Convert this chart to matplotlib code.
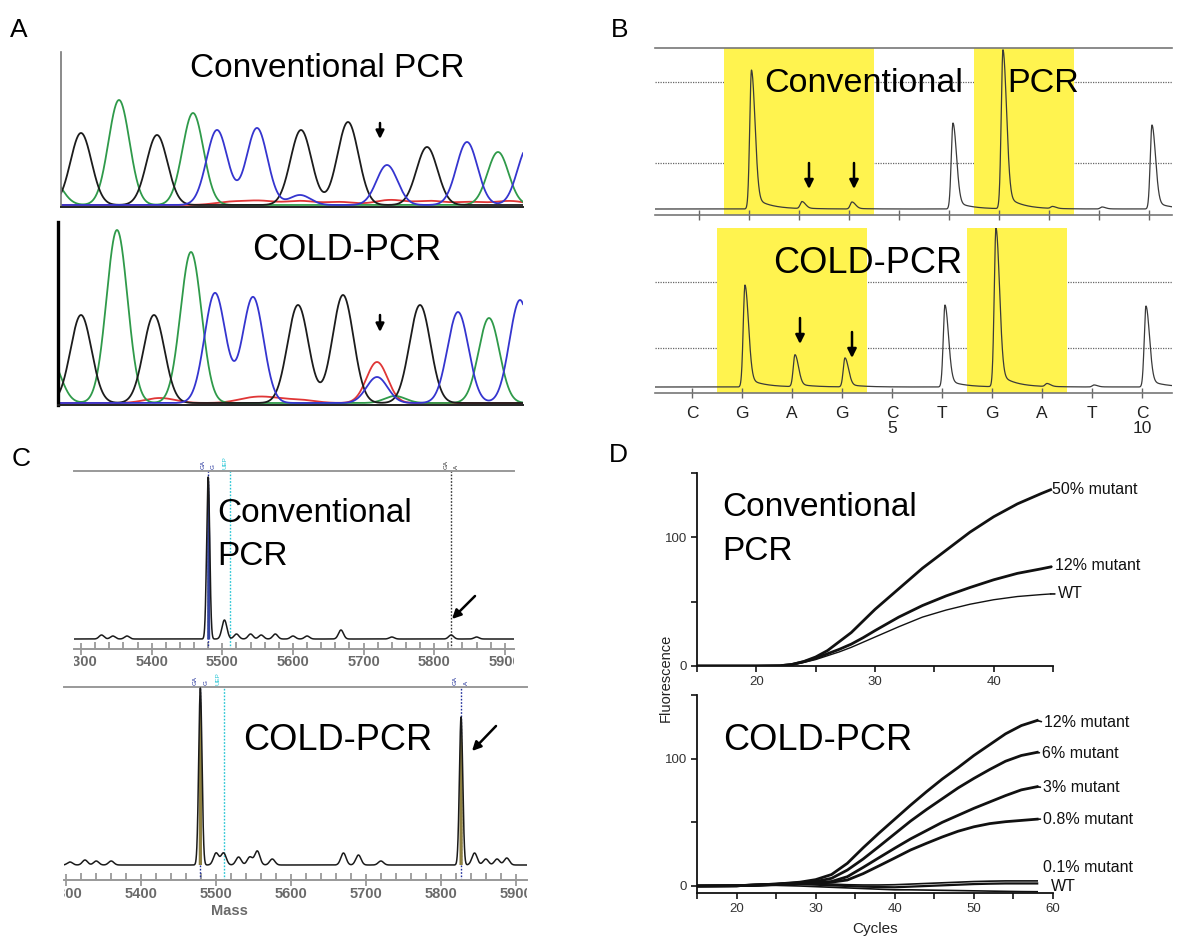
import numpy as np
import matplotlib
matplotlib.use("Agg")
import matplotlib.pyplot as plt
from matplotlib.patches import FancyArrowPatch
from matplotlib.ticker import MultipleLocator

plt.rcParams['font.family'] = ['Liberation Sans', 'DejaVu Sans']

# ---------------- data ----------------
# Panel A: Sanger chromatogram peaks (scan position, height, base colour)
A_conv_pos = [52, 81, 119, 157, 193, 217, 257, 300, 301, 348, 387, 427, 467, 498, 528]
A_conv_hgt = [25, 72, 105, 70, 92, 75, 77, 10, 75, 83, 40, 58, 63, 53, 58]
A_conv_col = ['g', 'k', 'g', 'k', 'g', 'b', 'b', 'b', 'k', 'k', 'b', 'k', 'b', 'g', 'b']
A_conv_noise_pos = [230, 260, 300, 340, 390, 430, 470, 510]
A_conv_noise_hgt = [3, 4, 4, 3, 5, 4, 3, 4]

A_cold_pos = [50, 81, 117, 154, 191, 215, 253, 298, 343, 377, 377, 395, 420, 458, 489, 520]
A_cold_hgt = [45, 88, 173, 88, 151, 110, 106, 98, 108, 41, 26, 7, 98, 91, 85, 103]
A_cold_col = ['g', 'k', 'g', 'k', 'g', 'b', 'b', 'k', 'k', 'r', 'b', 'g', 'k', 'b', 'g', 'b']
A_cold_noise_pos = [160, 250, 270, 300]
A_cold_noise_hgt = [5, 4, 4, 3]

# Panel B: pyrosequencing
B_bases = ['C', 'G', 'A', 'G', 'C', 'T', 'G', 'A', 'T', 'C']
B_numbers = {5: '5', 10: '10'}
B_conv_pos = [2.05, 3.06, 4.06, 6.08, 7.08, 8.07, 9.06, 10.06]
B_conv_hgt = [139, 7, 7, 86, 159, 2, 2, 84]
B_cold_pos = [2.06, 3.06, 4.06, 6.06, 7.08, 8.10, 9.04, 10.08]
B_cold_hgt = [102, 32, 29, 82, 159, 3, 2, 81]
B_highlight = [(1.5, 4.5), (6.5, 8.5)]
B_conv_grid = [46, 127]
B_cold_grid = [39, 105]

# Panel C: mass spectra (mass, intensity)
C_conv_mass = [5329, 5345, 5365, 5480, 5503, 5520, 5540, 5555, 5575, 5600, 5620, 5668, 5740, 5824, 5860]
C_conv_int = [4, 3, 3, 162, 19, 5, 5, 4, 5, 3, 3, 9, 2, 4, 2]
C_cold_mass = [5305, 5325, 5340, 5360, 5479, 5500, 5510, 5530, 5545, 5555, 5575, 5670, 5690, 5720,
               5827, 5845, 5860, 5875, 5888]
C_cold_int = [3, 5, 4, 4, 177, 12, 12, 8, 8, 14, 6, 12, 10, 4, 148, 12, 6, 6, 7]
C_conv_marks = [(5480, '#1f2f9a'), (5511, '#22c4d4'), (5824, '#333333')]
C_cold_marks = [(5479, '#1f2f9a'), (5510, '#22c4d4'), (5827, '#1f2f9a')]
C_ticks = [5300, 5400, 5500, 5600, 5700, 5800, 5900]

# Panel D: real-time amplification curves
D_conv_cycles = [15, 20, 22, 23, 24, 25, 26, 27, 28, 29, 30, 32, 34, 36, 38, 40, 42, 44, 44.8]
D_conv_50 = [0, 0, 0.2, 1.2, 3.5, 7, 12, 19, 26, 35, 44, 60, 76, 90, 104, 116, 126, 134, 137]
D_conv_12 = [0, 0, 0.2, 1.2, 3.3, 6, 9.5, 13, 17, 22, 27.5, 38, 47, 54.5, 61, 67, 72, 75.5, 77]
D_conv_wt = [0, 0, 0.2, 1.0, 2.8, 5, 8, 11, 14.5, 18.5, 22.5, 30.5, 38, 43.5, 48, 51.5, 54, 55.5, 56]

D_cold_cycles = [15, 20, 25, 28, 30, 32, 34, 36, 38, 40, 42, 44, 46, 48, 50, 52, 54, 56, 58]
D_cold_12 = [0, 0.2, 1.5, 3, 5, 9, 17.8, 30, 41.5, 52.5, 63.5, 74, 84, 93, 102.5, 111, 119.5, 126, 130]
D_cold_6 = [0, 0.2, 1.5, 2.5, 3.5, 6, 12.5, 21.2, 31, 41, 51, 60, 68.5, 77, 84.5, 91.5, 98, 102.5, 105]
D_cold_3 = [0, 0.2, 1.3, 2.2, 2.5, 3.5, 7.3, 14.6, 22.2, 29.7, 37, 43.5, 50, 55.5, 61, 66, 71, 75.5, 78]
D_cold_08 = [0, 0.2, 1.2, 2, 2, 3, 4.7, 9.7, 15.8, 22, 28.3, 33.5, 38.5, 43, 46.5, 49, 50.5, 51.5, 52.5]
D_cold_01 = [0, 0.2, 1.5, 2.5, 2, 1.5, 1, 0.8, 0.8, 1, 1.5, 2, 2.5, 3, 3.5, 3.8, 4, 4, 4]
D_cold_wt_a = [0, 0, 1, 1.5, 1, 0.5, 0, -0.5, -0.8, -1, -0.5, 0, 0.5, 1, 1.5, 1.8, 2, 2, 2]
D_cold_wt_b = [0, 0, 0.5, 0, -0.5, -1, -1.5, -2, -2.5, -3, -3, -3.2, -3.4, -3.6, -3.8, -4, -4.2, -4.4, -4.5]

# ---------------- figure helpers ----------------
W, H = 1177, 940
fig = plt.figure(figsize=(W / 100, H / 100), dpi=100)


def add_ax(x0, y0, x1, y1):
    return fig.add_axes([x0 / W, 1 - y1 / H, (x1 - x0) / W, (y1 - y0) / H])


def ftext(x, y, s, **kw):
    return fig.text(x / W, 1 - y / H, s, **kw)


def farrow(x0, y0, x1, y1, lw=1.8, ms=13):
    a = FancyArrowPatch((x0 / W, 1 - y0 / H), (x1 / W, 1 - y1 / H), transform=fig.transFigure,
                        arrowstyle='-|>', mutation_scale=ms, lw=lw, color='black',
                        shrinkA=0, shrinkB=0)
    fig.add_artist(a)


def gauss_sum(x, pos, hgt, sig):
    y = np.zeros_like(x)
    for p, h in zip(pos, hgt):
        y += h * np.exp(-0.5 * ((x - p) / sig) ** 2)
    return y


def hide_spines(ax, keep=()):
    for k, s in ax.spines.items():
        s.set_visible(k in keep)


# ---------------- Panel A ----------------
A_COLORS = {'k': '#1c1c1c', 'g': '#2f9a4a', 'b': '#3535cf', 'r': '#e03636'}


def draw_chrom(ax, pos, hgt, col, npos, nhgt, xlim, ylim, lspine_col, lspine_lw):
    x = np.linspace(xlim[0], xlim[1], 3000)
    for c in ['r', 'g', 'k', 'b']:
        p = [pp for pp, cc in zip(pos, col) if cc == c]
        h = [hh for hh, cc in zip(hgt, col) if cc == c]
        y = gauss_sum(x, p, h, 10.5)
        if c == 'r':
            y = y + gauss_sum(x, npos, nhgt, 15.0)
        ax.plot(x, y, color=A_COLORS[c], lw=1.3, solid_joinstyle='round')
    ax.set_xlim(*xlim)
    ax.set_ylim(*ylim)
    ax.set_xticks([])
    ax.set_yticks([])
    hide_spines(ax, keep=('left', 'bottom'))
    ax.spines['left'].set_color(lspine_col)
    ax.spines['left'].set_linewidth(lspine_lw)
    ax.spines['bottom'].set_color('#222222')
    ax.spines['bottom'].set_linewidth(1.4)
    ax.patch.set_alpha(0)


axA1 = add_ax(61, 52, 523, 207)
draw_chrom(axA1, A_conv_pos, A_conv_hgt, A_conv_col, A_conv_noise_pos, A_conv_noise_hgt,
           (61, 523), (-2, 153), '#777777', 1.2)
axA2 = add_ax(58, 222, 523, 405)
draw_chrom(axA2, A_cold_pos, A_cold_hgt, A_cold_col, A_cold_noise_pos, A_cold_noise_hgt,
           (58, 523), (-2, 181), '#000000', 2.4)

ftext(10, 37, 'A', fontsize=19)
ftext(190, 77, 'Conventional PCR', fontsize=24)
ftext(252, 260, 'COLD-PCR', fontsize=26)
farrow(380, 123, 380, 139, lw=1.8, ms=12)
farrow(380, 315, 380, 332, lw=1.8, ms=12)

# ---------------- Panel B ----------------
YELLOW = '#fff34f'


def pyro_trace(x, pos, hgt):
    y = np.zeros_like(x)
    for p, h in zip(pos, hgt):
        d = x - p
        left = np.exp(-0.5 * (d / 0.035) ** 2)
        right = 0.9 * np.exp(-0.5 * (d / 0.07) ** 2) + 0.1 * np.exp(-np.clip(d, 0, None) / 0.3)
        y += h * np.where(d < 0, left, right)
    return y


def draw_pyro(ax, pos, hgt, grid, xlim, ylim, top_line, labels):
    x = np.linspace(xlim[0], xlim[1], 4000)
    for a, b in B_highlight:
        ax.axvspan(a, b, color=YELLOW, lw=0, zorder=1)
    for g in grid:
        ax.axhline(g, color='#666666', lw=0.9, ls=(0, (1, 1)), zorder=0.5)
    ax.plot(x, pyro_trace(x, pos, hgt), color='#3a3a3a', lw=0.9, zorder=3)
    ax.set_xlim(*xlim)
    ax.set_ylim(*ylim)
    ax.set_yticks([])
    hide_spines(ax, keep=('bottom', 'top') if top_line else ('bottom',))
    for k in ('bottom', 'top'):
        ax.spines[k].set_color('#777777')
        ax.spines[k].set_linewidth(1.2)
        ax.spines[k].set_zorder(4)
    pos_ticks = list(range(1, len(B_bases) + 1))
    ax.set_xticks(pos_ticks)
    if labels:
        lab = [b + ('\n' + B_numbers[i] if i in B_numbers else '') for i, b in zip(pos_ticks, B_bases)]
        ax.set_xticklabels(lab, fontsize=12.5, color='#222222')
        for t in ax.get_xticklabels():
            t.set_linespacing(0.95)
    else:
        ax.set_xticklabels([])
    ax.tick_params(axis='x', direction='inout', length=7, width=1, color='#666666', pad=6)


axB1 = add_ax(655, 48, 1172, 215)
draw_pyro(axB1, B_conv_pos, B_conv_hgt, B_conv_grid, (0.12, 10.46), (-6, 161), True, False)
axB2 = add_ax(655, 228, 1172, 393)
draw_pyro(axB2, B_cold_pos, B_cold_hgt, B_cold_grid, (0.26, 10.6), (-6, 159), False, True)

ftext(611, 37, 'B', fontsize=19)
ftext(764, 92, 'Conventional', fontsize=24.5)
ftext(1007, 92, 'PCR', fontsize=24.5)
ftext(773, 273, 'COLD-PCR', fontsize=26)
farrow(809, 163, 809, 189)
farrow(854, 163, 854, 189)
farrow(800, 318, 800, 344)
farrow(852, 332, 852, 358)

# ---------------- Panel C ----------------


def draw_mass(ax, lab_ax, mass, inten, marks, xlim, ylim, fill_col):
    x = np.linspace(xlim[0], xlim[1], 6000)
    big_m = [m for m, i in zip(mass, inten) if i > 50]
    big_i = [i for i in inten if i > 50]
    sm_m = [m for m, i in zip(mass, inten) if i <= 50]
    sm_i = [i for i in inten if i <= 50]
    y = gauss_sum(x, big_m, big_i, 2.2) + gauss_sum(x, sm_m, sm_i, 3.5)
    for m, c in marks:
        ax.axvline(m, color=c, lw=1.0, ls=(0, (1.2, 1.2)), zorder=2)
    near = np.zeros_like(x, dtype=bool)
    for m in big_m:
        near |= np.abs(x - m) < 2.2
    ax.fill_between(x, 0, y, where=near, color=fill_col, lw=0, zorder=3)
    ax.plot(x, y, color='#1a1a1a', lw=1.1, zorder=4)
    ax.set_xlim(*xlim)
    ax.set_ylim(*ylim)
    ax.set_yticks([])
    hide_spines(ax, keep=('bottom', 'top'))
    for k in ('bottom', 'top'):
        ax.spines[k].set_color('#999999')
        ax.spines[k].set_linewidth(1.4)
    ax.xaxis.set_major_locator(MultipleLocator(100))
    ax.xaxis.set_minor_locator(MultipleLocator(20))
    ax.set_xticklabels([])
    ax.tick_params(axis='x', which='major', direction='inout', length=9, width=1.1, color='#888888')
    ax.tick_params(axis='x', which='minor', direction='in', length=5, width=1.1, color='#888888')
    lab_ax.set_xlim(*xlim)
    lab_ax.set_ylim(0, 1)
    lab_ax.axis('off')
    for t in C_ticks:
        lab_ax.text(t, 0.5, str(t), ha='center', va='center', fontsize=10.5, fontweight='bold',
                    color='#6a6a6a', clip_on=True)
    for m, c in marks:
        ax.text(m - 4, ylim[1] + 2, 'GA' if c != '#22c4d4' else 'UEP', rotation=90, fontsize=4.5,
                color=c, ha='right', va='bottom', clip_on=False)
        if c != '#22c4d4':
            ax.text(m + 4, ylim[1] + 2, 'G' if m < 5600 else 'A', rotation=90, fontsize=4.5,
                    color=c, ha='left', va='bottom', clip_on=False)


axC1 = add_ax(74, 471, 514, 649)
axC1l = add_ax(74, 655, 514, 670)
draw_mass(axC1, axC1l, C_conv_mass, C_conv_int, C_conv_marks, (5290, 5913), (-10, 168), '#34449e')
axC2 = add_ax(64, 687, 527, 880)
axC2l = add_ax(64, 886, 527, 901)
draw_mass(axC2, axC2l, C_cold_mass, C_cold_int, C_cold_marks, (5297, 5915), (-15, 178), '#8e8040')

ftext(12, 466, 'C', fontsize=19)
ftext(217, 522, 'Conventional', fontsize=24)
ftext(217, 565, 'PCR', fontsize=24)
ftext(243, 750, 'COLD-PCR', fontsize=26)
ftext(229, 911, 'Mass', fontsize=10.5, fontweight='bold', color='#6a6a6a', ha='center', va='center')
farrow(475, 596, 452, 619)
farrow(496, 726, 472, 751)

# ---------------- Panel D ----------------


def style_d(ax, xlim, ylim, xmaj):
    ax.set_xlim(*xlim)
    ax.set_ylim(*ylim)
    hide_spines(ax, keep=('left', 'bottom'))
    for k in ('left', 'bottom'):
        ax.spines[k].set_linewidth(1.3)
        ax.spines[k].set_color('#111111')
    ax.xaxis.set_major_locator(MultipleLocator(xmaj))
    ax.xaxis.set_minor_locator(MultipleLocator(5))
    ax.set_yticks([0, 100])
    ax.yaxis.set_minor_locator(MultipleLocator(50))
    ax.tick_params(which='both', direction='out', length=4, width=1.1, labelsize=9.5,
                   labelcolor='#333333', pad=3)
    ax.patch.set_alpha(0)


def label_curve(ax, x, y, text, dx, dy, connector=True):
    kw = dict(arrowstyle='-', lw=1.2, color='#111111', shrinkA=0, shrinkB=0,
              relpos=(0, 0.5)) if connector else None
    ax.annotate(text, xy=(x, y), xytext=(dx, dy), textcoords='offset pixels', ha='left',
                va='center', fontsize=11.5, color='#111111', arrowprops=kw, annotation_clip=False)


axD1 = add_ax(697, 473, 1053, 666)
style_d(axD1, (15, 45), (0, 150), 10)
axD1.plot(D_conv_cycles, D_conv_wt, color='#111111', lw=1.0)
axD1.plot(D_conv_cycles, D_conv_12, color='#111111', lw=2.0)
axD1.plot(D_conv_cycles, D_conv_50, color='#111111', lw=2.0)
label_curve(axD1, D_conv_cycles[-1], D_conv_50[-1], '50% mutant', 1, 0, False)
label_curve(axD1, D_conv_cycles[-1], D_conv_12[-1], '12% mutant', 4, 1)
label_curve(axD1, D_conv_cycles[-1], D_conv_wt[-1], 'WT', 7, 0)

axD2 = add_ax(697, 695, 1053, 893)
style_d(axD2, (15, 60), (-5.5, 150), 10)
for series, lw in [(D_cold_wt_b, 1.2), (D_cold_wt_a, 1.6), (D_cold_01, 1.2), (D_cold_08, 2.0),
                   (D_cold_3, 2.0), (D_cold_6, 2.0), (D_cold_12, 2.0)]:
    axD2.plot(D_cold_cycles, series, color='#111111', lw=lw)
xe = D_cold_cycles[-1]
label_curve(axD2, xe, D_cold_12[-1], '12% mutant', 7, -2)
label_curve(axD2, xe, D_cold_6[-1], '6% mutant', 5, -1)
label_curve(axD2, xe, D_cold_3[-1], '3% mutant', 6, -1)
label_curve(axD2, xe, D_cold_08[-1], '0.8% mutant', 6, 0)
label_curve(axD2, xe, D_cold_01[-1], '0.1% mutant', 6, 13, False)
label_curve(axD2, xe, D_cold_wt_a[-1], 'WT', 14, -3, False)
axD2.set_xlabel('Cycles', fontsize=11, color='#222222', labelpad=5)

ftext(609, 462, 'D', fontsize=19)
ftext(722, 516, 'Conventional', fontsize=24)
ftext(722, 560, 'PCR', fontsize=24)
ftext(723, 750, 'COLD-PCR', fontsize=26)
ftext(666, 678, 'Fluorescence', fontsize=10.5, rotation=90, ha='center', va='center', color='#222222')

fig.savefig('out.png', dpi=100)
